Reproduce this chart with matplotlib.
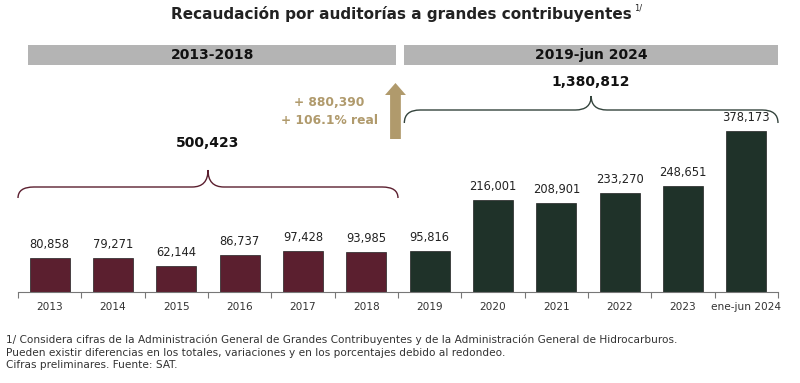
import matplotlib.pyplot as plt
from matplotlib.path import Path
from matplotlib.patches import PathPatch, FancyArrow, Rectangle
from matplotlib.transforms import blended_transform_factory
import numpy as np

# data
years = ['2013', '2014', '2015', '2016', '2017', '2018',
         '2019', '2020', '2021', '2022', '2023', 'ene-jun 2024']
values = [80858, 79271, 62144, 86737, 97428, 93985,
          95816, 216001, 208901, 233270, 248651, 378173]
period_labels = ['2013-2018', '2019-jun 2024']
period_totals = ['500,423', '1,380,812']
diff_text = ['+ 880,390', '+ 106.1% real']

maroon = '#5b1f2f'
green = '#1f3229'
gold = '#b09a6c'
grey_band = '#b4b4b4'

plt.rcParams['font.family'] = ['DejaVu Sans']

W, H = 800, 383
fig = plt.figure(figsize=(W / 100, H / 100), dpi=100)

def fx(px):
    return px / W

def fy(py):
    return 1 - py / H

# main axes: baseline at y=292 px, top of figure
base = 292
ax = fig.add_axes([fx(18), fy(base), fx(778) - fx(18), fy(0) - fy(base)])
ax.set_xlim(-0.5, len(years) - 0.5)
ax.set_ylim(0, base / 0.000425)

x = np.arange(len(years))
colors = [maroon] * 6 + [green] * 6
ax.bar(x, values, width=0.63, color=colors, edgecolor='#222222', linewidth=0.5)
for xi, v in zip(x, values):
    ax.annotate(f'{v:,}', (xi, v), xytext=(0, 5), textcoords='offset points',
                ha='center', va='bottom', fontsize=8.3, color='#222222')

for s in ['top', 'right', 'left']:
    ax.spines[s].set_visible(False)
ax.spines['bottom'].set_color('#777777')
ax.spines['bottom'].set_linewidth(0.8)
ax.set_yticks([])
ax.set_xticks(x)
ax.set_xticklabels(years, fontsize=7.6, color='#333333')
ax.tick_params(axis='x', length=0, pad=7)
ax.set_xticks(np.arange(-0.5, len(years), 1.0), minor=True)
ax.tick_params(axis='x', which='minor', length=4, color='#777777', width=0.8)

# title
fig.text(fx(632), fy(14), 'Recaudación por auditorías a grandes contribuyentes',
         ha='right', va='center', fontsize=11, fontweight='bold', color='#222222')
fig.text(fx(634), fy(8), '1/', ha='left', va='center', fontsize=6, color='#222222')

# header bands
trans = blended_transform_factory(ax.transData, ax.transAxes)
def ay(py):
    return (base - py) / base

for (x0, x1), lab in zip([(-0.34, 5.47), (5.6, 11.5)], period_labels):
    ax.add_patch(Rectangle((x0, ay(65)), x1 - x0, ay(45) - ay(65), transform=trans,
                           color=grey_band, clip_on=False, lw=0))
    ax.text((x0 + x1) / 2, ay(55), lab, transform=trans, ha='center', va='center',
            fontsize=10, fontweight='bold', color='#111111')

# braces
def brace(x0, x1, y_end, y_line, y_peak, color, r=0.25):
    xc = (x0 + x1) / 2
    verts = [(x0, y_end), (x0, y_line), (x0 + r, y_line),
             (xc - r, y_line), (xc, y_line), (xc, y_peak),
             (xc, y_line), (xc + r, y_line),
             (x1 - r, y_line), (x1, y_line), (x1, y_end)]
    codes = [Path.MOVETO, Path.CURVE3, Path.CURVE3,
             Path.LINETO, Path.CURVE3, Path.CURVE3,
             Path.CURVE3, Path.CURVE3,
             Path.LINETO, Path.CURVE3, Path.CURVE3]
    ax.add_patch(PathPatch(Path(verts, codes), transform=trans, fill=False,
                           edgecolor=color, lw=1.0, clip_on=False))

brace(-0.5, 5.5, ay(198), ay(187), ay(170), maroon)
ax.text(2.5, ay(143), period_totals[0], transform=trans, ha='center', va='center',
        fontsize=10, fontweight='bold', color='#111111')
brace(5.6, 11.5, ay(123), ay(110), ay(96), '#34443d')
ax.text(8.55, ay(82), period_totals[1], transform=trans, ha='center', va='center',
        fontsize=10, fontweight='bold', color='#111111')

# gold arrow
ax.add_patch(FancyArrow(5.46, ay(139), 0, ay(83) - ay(139), width=0.17,
                        head_width=0.33, head_length=ay(83) - ay(95),
                        length_includes_head=True, transform=trans,
                        color=gold, lw=0, clip_on=False))
ax.text(4.42, ay(103), diff_text[0], transform=trans, ha='center', va='center',
        fontsize=8.8, fontweight='bold', color=gold)
ax.text(4.42, ay(121), diff_text[1], transform=trans, ha='center', va='center',
        fontsize=8.8, fontweight='bold', color=gold)

# footnotes
notes = ['1/ Considera cifras de la Administración General de Grandes Contribuyentes y de la Administración General de Hidrocarburos.',
         'Pueden existir diferencias en los totales, variaciones y en los porcentajes debido al redondeo.',
         'Cifras preliminares. Fuente: SAT.']
for i, n in enumerate(notes):
    fig.text(fx(6), fy(340 + 12.5 * i), n, ha='left', va='center',
             fontsize=7.6, color='#333333')

fig.savefig('out.png', dpi=100)
